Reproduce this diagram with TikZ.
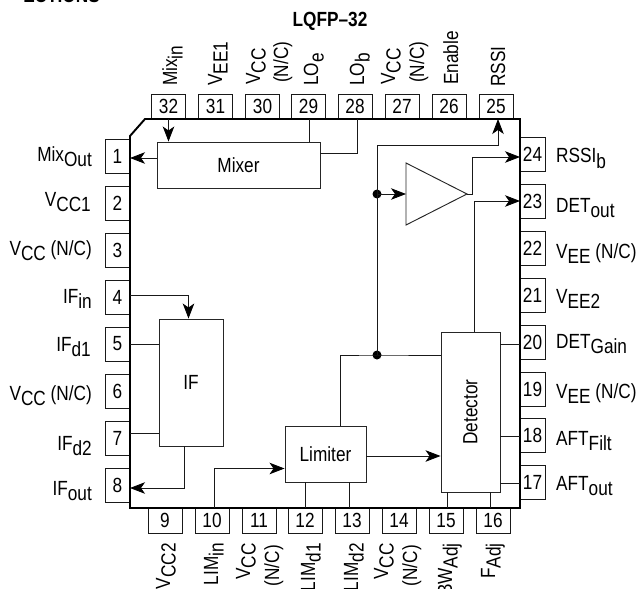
\documentclass[tikz,border=0pt]{standalone}
\usepackage{fontspec}
\setmainfont[FakeStretch=0.84]{Liberation Sans}
\usetikzlibrary{arrows.meta}
\newcommand{\lw}[1]{\raisebox{-5.5pt}{#1}}
\tikzset{
  x=1pt,y=-1pt,
  base font/.style={font=\fontsize{20.5}{22}\selectfont},
  pinbox/.style={draw=black!90,line width=0.85pt,inner sep=0pt,base font},
  hpin/.style={pinbox,minimum width=25pt,minimum height=34pt},
  vpin/.style={pinbox,minimum width=34pt,minimum height=25pt},
  blk/.style={draw=black!85,line width=0.95pt,inner sep=0pt,base font},
  wire/.style={draw=black!90,line width=0.85pt},
  arr/.style={wire,-{Stealth[length=15pt,width=11.5pt,inset=4pt,black]}},
  bodyline/.style={line width=1.9pt,line join=miter},
  lleft/.style={base font,anchor=base east,inner sep=0pt},
  lright/.style={base font,anchor=base west,inner sep=0pt},
  ltop/.style={base font,rotate=90,anchor=base west,inner sep=0pt},
  lbot/.style={base font,rotate=90,anchor=base east,inner sep=0pt},
  dot/.style={circle,fill=black,inner sep=0pt,minimum size=9pt}
}
\begin{document}
\begin{tikzpicture}
\useasboundingbox (0,0) rectangle (636,588);
% pins
\foreach \n/\y in {1/156,2/203,3/250,4/297,5/344,6/391,7/438,8/485}
  \node[hpin] (p\n) at (117.5,\y) {\n};
\foreach \n/\y in {24/154,23/201,22/248,21/295,20/342,19/389,18/435,17/482}
  \node[hpin] (p\n) at (532.5,\y) {\n};
\foreach \n/\x in {32/168.5,31/215.5,30/262.5,29/308.5,28/355,27/402,26/449,25/496}
  \node[vpin] (p\n) at (\x,106.5) {\n};
\foreach \n/\x in {9/165,10/212,11/259,12/305,13/352,14/399,15/446,16/493}
  \node[vpin] (p\n) at (\x,520.5) {\n};
% package body
\coordinate (bA) at (130,136);
\coordinate (bB) at (145,119);
\coordinate (bC) at (520,119);
\coordinate (bD) at (520,508);
\coordinate (bE) at (130,508);
\draw[bodyline] (bA) -- (bB) -- (bC) -- (bD) -- (bE) -- cycle;
% blocks
\node[blk,minimum width=163pt,minimum height=46pt] (mixer) at (238.5,165) {Mixer};
\node[blk,minimum width=64pt,minimum height=127pt] (ifb) at (191,382.5) {IF};
\node[blk,minimum width=81pt,minimum height=56pt] (limiter) at (325.5,454) {Limiter};
\node[blk,minimum width=59pt,minimum height=160pt] (det) at (470.5,412) {\rotatebox{90}{Detector}};
\coordinate (triA) at (406,163);
\coordinate (triB) at (406,225);
\coordinate (triC) at (467,194);
\draw[blk] (triA) -- (triC) -- (triB) -- cycle;
% junctions
\node[dot] (j1) at (377,194) {};
\node[dot] (j2) at (377,355) {};
% connectors
\draw[arr] (p32.south) -- (p32.south |- mixer.north);
\draw[arr] (mixer.west |- 0,158) -- (bA |- 0,158);
\draw[wire] (309.5,0 |- bB) -- (309.5,0 |- mixer.north);
\draw[wire] (357,0 |- bB) -- (357,153) -- (mixer.east |- 0,153);
\draw[arr] (j1.center) -- (377,145) -- (498,145) -- (498,0 |- bB);
\draw[arr] (j1.center) -- (triA |- j1);
\draw[arr] (triC) -- (472,194) -- (472,157) -- (bC |- 0,157);
\draw[arr] (474,0 |- det.north) -- (474,201) -- (bC |- 0,201);
\draw[wire] (j1.center) -- (j2.center);
\draw[wire] (340.5,0 |- limiter.north) -- (340.5,355) -- (j2.center) -- (det.west |- j2);
\draw[arr] (limiter.east |- 0,456) -- (det.west |- 0,456);
\draw[wire] (305.5,0 |- limiter.south) -- (305.5,0 |- bE);
\draw[wire] (349,0 |- limiter.south) -- (349,0 |- bE);
\draw[wire] (447,0 |- det.south) -- (447,0 |- bE);
\draw[wire] (490,0 |- det.south) -- (490,0 |- bE);
\draw[wire] (det.east |- 0,344) -- (bC |- 0,344);
\draw[wire] (det.east |- 0,436) -- (bC |- 0,436);
\draw[wire] (det.east |- 0,483) -- (bC |- 0,483);
\draw[arr] (bE |- 0,295.5) -- (188.5,295.5) -- (188.5,0 |- ifb.north);
\draw[wire] (bE |- 0,344.5) -- (ifb.west |- 0,344.5);
\draw[wire] (bE |- 0,433) -- (ifb.west |- 0,433);
\draw[arr] (184,0 |- ifb.south) -- (184,488) -- (bE |- 0,488);
\draw[arr] (214.5,0 |- bE) -- (214.5,468.5) -- (limiter.west |- 0,468.5);
% left labels
\node[lleft] (l1) at (92,161) {Mix\lw{Out}};
\node[lleft] (l2) at (91,206) {V\lw{CC1}};
\node[lleft] (l3) at (92,255) {V\lw{CC} (N/C)};
\node[lleft] (l4) at (92,303) {IF\lw{in}};
\node[lleft] (l5) at (91,351) {IF\lw{d1}};
\node[lleft] (l6) at (92,400) {V\lw{CC} (N/C)};
\node[lleft] (l7) at (92,450) {IF\lw{d2}};
\node[lleft] (l8) at (92,495) {IF\lw{out}};
% right labels
\node[lright] (r24) at (556,163) {RSSI\lw{b}};
\node[lright] (r23) at (556,212) {DET\lw{out}};
\node[lright] (r22) at (556,258) {V\lw{EE} (N/C)};
\node[lright] (r21) at (556,303) {V\lw{EE2}};
\node[lright] (r20) at (556,348) {DET\lw{Gain}};
\node[lright] (r19) at (556,398) {V\lw{EE} (N/C)};
\node[lright] (r18) at (556,445) {AFT\lw{Filt}};
\node[lright] (r17) at (556,490) {AFT\lw{out}};
% top labels
\node[ltop] (t32) at (177,86) {Mix\lw{in}};
\node[ltop] (t31) at (222,86) {V\lw{EE1}};
\node[ltop] (t30) at (260,85) {V\lw{CC}};
\node[ltop] (t30b) at (288,83) {(N/C)};
\node[ltop] (t29) at (318,86) {LO\lw{e}};
\node[ltop] (t28) at (364,86) {LO\lw{b}};
\node[ltop] (t27) at (395,85) {V\lw{CC}};
\node[ltop] (t27b) at (424,83) {(N/C)};
\node[ltop] (t26) at (458,85) {Enable};
\node[ltop] (t25) at (505,87) {RSSI};
% bottom labels
\node[lbot] (b9) at (170,543) {V\lw{CC2}};
\node[lbot] (b10) at (218,543) {LIM\lw{in}};
\node[lbot] (b11) at (250,543) {V\lw{CC}};
\node[lbot] (b11b) at (279,545) {(N/C)};
\node[lbot] (b12) at (315,543) {LIM\lw{d1}};
\node[lbot] (b13) at (358,543) {LIM\lw{d2}};
\node[lbot] (b14) at (388,543) {V\lw{CC}};
\node[lbot] (b14b) at (417,545) {(N/C)};
\node[lbot] (b15) at (452,543) {BW\lw{Adj}};
\node[lbot] (b16) at (495,543) {F\lw{Adj}};
% headings
\node[base font,anchor=base,inner sep=0pt] (title) at (330,27) {\textbf{LQFP–32}};
\node[base font,anchor=base east,inner sep=0pt] (head) at (100,3) {\textbf{ECTIONS}};
\end{tikzpicture}
\end{document}
